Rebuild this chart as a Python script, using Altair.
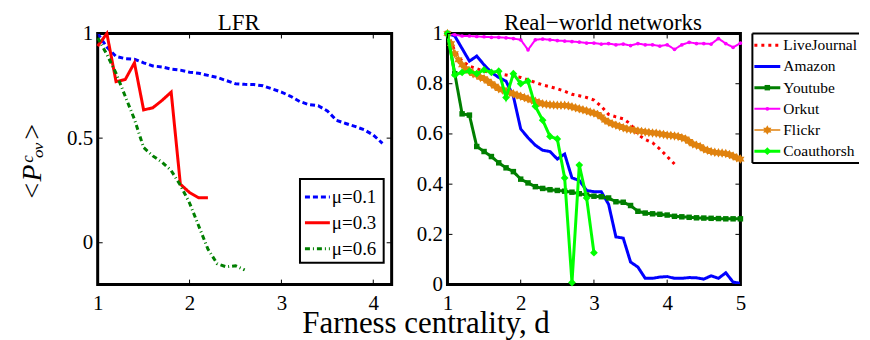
import altair as alt
import pandas as pd

# ---------------- data ----------------
LFR_NAMES = ["μ=0.1", "μ=0.3", "μ=0.6"]
LFR_D_01 = [1.0, 1.1, 1.2, 1.3, 1.4, 1.5, 1.6, 1.7, 1.8, 1.9, 2.0, 2.1, 2.2, 2.3, 2.4, 2.5,
            2.6, 2.7, 2.8, 2.9, 3.0, 3.1, 3.2, 3.3, 3.4, 3.5, 3.6, 3.7, 3.8, 3.9, 4.0, 4.1]
LFR_P_01 = [1.0, 0.935, 0.89, 0.88, 0.877, 0.86, 0.845, 0.84, 0.83, 0.825, 0.815, 0.81, 0.80,
            0.79, 0.775, 0.76, 0.757, 0.756, 0.75, 0.735, 0.72, 0.70, 0.675, 0.66, 0.655, 0.63,
            0.585, 0.57, 0.556, 0.54, 0.515, 0.475]
LFR_D_03 = [1.0, 1.1, 1.2, 1.3, 1.4, 1.5, 1.6, 1.7, 1.8, 1.9, 2.0, 2.1, 2.2]
LFR_P_03 = [0.94, 1.0, 0.77, 0.78, 0.86, 0.635, 0.645, 0.68, 0.72, 0.28, 0.24, 0.215, 0.215]
LFR_D_06 = [1.0, 1.1, 1.2, 1.3, 1.4, 1.5, 1.6, 1.7, 1.8, 1.9, 2.0, 2.1, 2.2, 2.3, 2.4, 2.5, 2.6]
LFR_P_06 = [0.98, 0.9, 0.81, 0.7, 0.59, 0.455, 0.415, 0.385, 0.345, 0.275, 0.19, 0.08, -0.03,
            -0.1, -0.115, -0.11, -0.13]

NET_NAMES = ["LiveJournal", "Amazon", "Youtube", "Orkut", "Flickr", "Coauthorship"]
NET_D = [1.0, 1.1, 1.2, 1.3, 1.4, 1.5, 1.6, 1.7, 1.8, 1.9, 2.0, 2.1, 2.2, 2.3, 2.4, 2.5, 2.6,
         2.7, 2.8, 2.9, 3.0, 3.1, 3.2, 3.3, 3.4, 3.5, 3.6, 3.7, 3.8, 3.9, 4.0, 4.1, 4.2, 4.3,
         4.4, 4.5, 4.6, 4.7, 4.8, 4.9, 5.0]
LIVEJOURNAL = [1.0, 0.93, 0.89, 0.87, 0.86, 0.85, 0.845, 0.84, 0.835, 0.83, 0.825, 0.815, 0.805,
               0.795, 0.788, 0.78, 0.77, 0.758, 0.752, 0.745, 0.735, 0.71, 0.678, 0.668, 0.66,
               0.64, 0.598, 0.578, 0.565, 0.54, 0.51, 0.48]
AMAZON = [1.0, 0.99, 0.94, 0.89, 0.91, 0.875, 0.845, 0.825, 0.81, 0.75, 0.62, 0.585, 0.555,
          0.535, 0.53, 0.5, 0.52, 0.425, 0.415, 0.375, 0.37, 0.37, 0.32, 0.19, 0.185, 0.09, 0.07,
          0.025, 0.025, 0.03, 0.032, 0.025, 0.025, 0.028, 0.027, 0.022, 0.035, 0.025, 0.047,
          0.01, 0.005]
YOUTUBE = [1.0, 0.84, 0.68, 0.675, 0.55, 0.53, 0.51, 0.485, 0.465, 0.45, 0.42, 0.405, 0.39,
           0.383, 0.378, 0.375, 0.372, 0.368, 0.362, 0.357, 0.352, 0.35, 0.345, 0.33, 0.328,
           0.315, 0.292, 0.285, 0.282, 0.28, 0.277, 0.272, 0.27, 0.268, 0.266, 0.265, 0.264,
           0.263, 0.262, 0.262, 0.262]
ORKUT = [1.0, 0.995, 0.99, 0.99, 0.988, 0.987, 0.985, 0.985, 0.983, 0.98, 0.975, 0.935, 0.975,
         0.978, 0.975, 0.972, 0.97, 0.968, 0.966, 0.962, 0.962, 0.958, 0.96, 0.955, 0.958, 0.952,
         0.96, 0.955, 0.955, 0.95, 0.955, 0.937, 0.955, 0.965, 0.96, 0.96, 0.958, 0.98, 0.96,
         0.945, 0.962]
FLICKR_D = [1.0, 1.05, 1.1, 1.15, 1.2, 1.25, 1.3, 1.35, 1.4, 1.45, 1.5, 1.55, 1.6, 1.65, 1.7,
            1.75, 1.8, 1.85, 1.9, 1.95, 2.0, 2.05, 2.1, 2.15, 2.2, 2.25, 2.3, 2.35, 2.4, 2.45,
            2.5, 2.55, 2.6, 2.65, 2.7, 2.75, 2.8, 2.85, 2.9, 2.95, 3.0, 3.05, 3.1, 3.15, 3.2,
            3.25, 3.3, 3.35, 3.4, 3.45, 3.5, 3.55, 3.6, 3.65, 3.7, 3.75, 3.8, 3.85, 3.9, 3.95,
            4.0, 4.05, 4.1, 4.15, 4.2, 4.25, 4.3, 4.35, 4.4, 4.45, 4.5, 4.55, 4.6, 4.65, 4.7,
            4.75, 4.8, 4.85, 4.9, 4.95, 5.0]
FLICKR = [1.0, 0.96, 0.92, 0.895, 0.875, 0.86, 0.85, 0.84, 0.835, 0.825,
          0.82, 0.81, 0.80, 0.79, 0.78, 0.775, 0.77, 0.765, 0.76, 0.755,
          0.75, 0.745, 0.74, 0.735, 0.73, 0.725, 0.72, 0.718, 0.716, 0.715,
          0.714, 0.714, 0.714, 0.712, 0.708, 0.704, 0.70, 0.696, 0.692, 0.687,
          0.683, 0.678, 0.668, 0.655, 0.647, 0.64, 0.635, 0.63, 0.625, 0.62,
          0.618, 0.615, 0.612, 0.61, 0.608, 0.606, 0.604, 0.603, 0.60, 0.598,
          0.595, 0.594, 0.592, 0.59, 0.585, 0.58, 0.57, 0.56, 0.555, 0.55,
          0.54, 0.535, 0.53, 0.527, 0.525, 0.524, 0.522, 0.518, 0.512, 0.505,
          0.50]
COAUTHORSHIP = [1.0, 0.835, 0.845, 0.85, 0.84, 0.855, 0.845, 0.85, 0.745, 0.84, 0.80, 0.81,
                0.71, 0.655, 0.59, 0.58, 0.425, 0.008, 0.476, 0.345, 0.127]

LFR_XTICKS = [1, 2, 3, 4]
LFR_YTICKS = [0, 0.5, 1]
NET_XTICKS = [1, 2, 3, 4, 5]
NET_YTICKS = [0, 0.2, 0.4, 0.6, 0.8, 1]

# ---------------- tables ----------------
def rows(name, xs, ys):
    return [{"series": name, "d": x, "p": y} for x, y in zip(xs, ys)]

lfr_df = pd.DataFrame(rows(LFR_NAMES[0], LFR_D_01, LFR_P_01)
                      + rows(LFR_NAMES[1], LFR_D_03, LFR_P_03)
                      + rows(LFR_NAMES[2], LFR_D_06, LFR_P_06))
net_df = pd.DataFrame(rows("LiveJournal", NET_D, LIVEJOURNAL)
                      + rows("Amazon", NET_D, AMAZON)
                      + rows("Youtube", NET_D, YOUTUBE)
                      + rows("Orkut", NET_D, ORKUT)
                      + rows("Flickr", FLICKR_D, FLICKR)
                      + rows("Coauthorship", NET_D, COAUTHORSHIP))

# ---------------- styles ----------------
FONT = "Liberation Serif, Times New Roman, serif"
HEXAGRAM = ("M0,-1L0.2887,-0.5L0.866,-0.5L0.5774,0L0.866,0.5L0.2887,0.5L0,1L-0.2887,0.5"
            "L-0.866,0.5L-0.5774,0L-0.866,-0.5L-0.2887,-0.5Z")
ALL_NAMES = LFR_NAMES + NET_NAMES
ALL_COLORS = ["#0000FF", "#FF0000", "#007F00",
              "#FF0000", "#0000FF", "#007F00", "#FF00FF", "#E0820E", "#00FF00"]
ALL_DASH = [[5, 3], [1, 0], [5, 3, 1, 3], [3, 4], [1, 0], [1, 0], [1, 0], [1, 0], [1, 0]]
ALL_WIDTH = [3, 3, 3, 3, 3, 3, 2, 1.5, 3]
MARKED = ["Youtube", "Orkut", "Flickr", "Coauthorship"]
MARK_SHAPES = ["square", "circle", HEXAGRAM, "diamond"]
MARK_SIZES = [30, 14, 90, 60]

color_scale = alt.Scale(domain=ALL_NAMES, range=ALL_COLORS)
dash_scale = alt.Scale(type="ordinal", domain=ALL_NAMES, range=ALL_DASH)
width_scale = alt.Scale(type="ordinal", domain=ALL_NAMES, range=ALL_WIDTH)
shape_scale = alt.Scale(domain=MARKED, range=MARK_SHAPES)
size_scale = alt.Scale(type="ordinal", domain=MARKED, range=MARK_SIZES)

enc_color = alt.Color("series:N", scale=color_scale, legend=None)
enc_dash = alt.StrokeDash("series:N", scale=dash_scale, legend=None)
enc_width = alt.StrokeWidth("series:N", scale=width_scale, legend=None)
enc_shape = alt.Shape("series:N", scale=shape_scale, legend=None)
enc_size = alt.Size("series:N", scale=size_scale, legend=None)

W_L, W_R, H = 295, 294, 252
W_LEG, H_LEG = 107, 130
TICK = 5

def ticks(xvals, yvals, xenc, yenc, w, h):
    tx = alt.Chart(pd.DataFrame({"d": xvals}))
    ty = alt.Chart(pd.DataFrame({"p": yvals}))
    base = dict(color="black", strokeWidth=1)
    return [
        tx.mark_rule(**base).encode(x=xenc, y=alt.value(h), y2=alt.value(h - TICK)),
        tx.mark_rule(**base).encode(x=xenc, y=alt.value(0), y2=alt.value(TICK)),
        ty.mark_rule(**base).encode(y=yenc, x=alt.value(0), x2=alt.value(TICK)),
        ty.mark_rule(**base).encode(y=yenc, x=alt.value(w), x2=alt.value(w - TICK)),
    ]

def panel_title(text, dx):
    return alt.TitleParams(text, font=FONT, fontSize=23, fontWeight="normal",
                           color="black", offset=-12, frame="group", dx=dx)

# ---------------- left panel (LFR) ----------------
lx_scale = alt.Scale(domain=[1, 4.2], nice=False, zero=False)
ly_scale = alt.Scale(domain=[-0.2, 1], nice=False, zero=False)
lx_axis = alt.Axis(values=LFR_XTICKS, format="~g", title="Farness centrality, d",
                   titleFontSize=31, titleFontWeight="normal", titleX=329, titleY=48,
                   titleBaseline="alphabetic", titleAlign="center")
ly_axis = alt.Axis(values=LFR_YTICKS, format="~g", title="<Pᶜₒᵥ>",
                   titleFontSize=28, titleFontWeight="normal", titleFontStyle="italic",
                   titleX=-57, titleY=128, titleBaseline="alphabetic", titleAlign="center",
                   titleAngle=270)
lx = alt.X("d:Q", scale=lx_scale, axis=lx_axis)
ly = alt.Y("p:Q", scale=ly_scale, axis=ly_axis)

lfr_lines = [
    alt.Chart(lfr_df).transform_filter(alt.datum.series == n)
    .mark_line(strokeCap="butt")
    .encode(x=lx, y=ly, color=enc_color, strokeDash=enc_dash, strokeWidth=enc_width)
    for n in LFR_NAMES
]
left_main = alt.layer(*lfr_lines, *ticks(LFR_XTICKS, LFR_YTICKS, lx, ly, W_L, H))

lfr_leg_df = pd.DataFrame({"series": LFR_NAMES})
lfr_leg_y = alt.Y("series:N",
                  scale=alt.Scale(type="point", domain=LFR_NAMES, range=[164, 216], padding=0),
                  axis=None)
lfr_box = alt.Chart(pd.DataFrame({"box": ["legend"]})).mark_rect(
    fill="white", stroke="black", strokeWidth=2).encode(
    x=alt.value(203), x2=alt.value(287), y=alt.value(146), y2=alt.value(230))
lfr_leg_line = alt.Chart(lfr_leg_df).mark_rule(strokeCap="butt").encode(
    y=lfr_leg_y, x=alt.value(208), x2=alt.value(233),
    color=enc_color, strokeDash=enc_dash, strokeWidth=enc_width)
lfr_leg_text = alt.Chart(lfr_leg_df).mark_text(
    align="left", baseline="middle", font=FONT, fontSize=19, color="black").encode(
    y=lfr_leg_y, x=alt.value(235), text="series:N")
left_leg = alt.layer(lfr_box, lfr_leg_line, lfr_leg_text)

left = alt.layer(left_main, left_leg).resolve_scale(y="independent").properties(
    width=W_L, height=H, title=panel_title("LFR", -6))

# ---------------- right panel (real-world) ----------------
rx_scale = alt.Scale(domain=[1, 5], nice=False, zero=False)
ry_scale = alt.Scale(domain=[0, 1], nice=False, zero=False)
rx = alt.X("d:Q", scale=rx_scale, axis=alt.Axis(values=NET_XTICKS, format="~g", title=None))
ry = alt.Y("p:Q", scale=ry_scale, axis=alt.Axis(values=NET_YTICKS, format="~g", title=None))

net_layers = []
for n in NET_NAMES:
    base = alt.Chart(net_df).transform_filter(alt.datum.series == n)
    net_layers.append(base.mark_line(strokeCap="butt").encode(
        x=rx, y=ry, color=enc_color, strokeDash=enc_dash, strokeWidth=enc_width))
    if n in MARKED:
        net_layers.append(base.mark_point(filled=True, opacity=1, strokeWidth=0).encode(
            x=rx, y=ry, color=enc_color, shape=enc_shape, size=enc_size))

right = alt.layer(*net_layers, *ticks(NET_XTICKS, NET_YTICKS, rx, ry, W_R, H)).properties(
    width=W_R, height=H, title=panel_title("Real−world networks", 9))

# ---------------- legend panel ----------------
net_leg_df = pd.DataFrame({"series": NET_NAMES})
net_leg_y = alt.Y("series:N", scale=alt.Scale(type="point", domain=NET_NAMES, padding=0.56),
                  axis=None)
one = alt.Chart(pd.DataFrame({"box": ["legend"]}))
frame_style = dict(color="black", strokeWidth=2)
leg_frame = [
    one.mark_rule(**frame_style).encode(x=alt.value(0), x2=alt.value(W_LEG), y=alt.value(0)),
    one.mark_rule(**frame_style).encode(x=alt.value(0), x2=alt.value(W_LEG), y=alt.value(H_LEG)),
    one.mark_rule(**frame_style).encode(x=alt.value(0), y=alt.value(0), y2=alt.value(H_LEG)),
]
leg_line = alt.Chart(net_leg_df).mark_rule(strokeCap="butt").encode(
    y=net_leg_y, x=alt.value(2), x2=alt.value(28),
    color=enc_color, strokeDash=enc_dash, strokeWidth=enc_width)
leg_pts = alt.Chart(net_leg_df).transform_filter(
    alt.FieldOneOfPredicate(field="series", oneOf=MARKED)).mark_point(
    filled=True, opacity=1, strokeWidth=0).encode(
    y=net_leg_y, x=alt.value(15), color=enc_color, shape=enc_shape, size=enc_size)
leg_text = alt.Chart(net_leg_df).mark_text(
    align="left", baseline="middle", font=FONT, fontSize=15.5, color="black",
    limit=W_LEG - 32, ellipsis="\u200b").encode(
    y=net_leg_y, x=alt.value(31), text="series:N")
legend = alt.layer(*leg_frame, leg_line, leg_pts, leg_text).properties(
    width=W_LEG, height=H_LEG,
    view=alt.ViewBackground(stroke="transparent", fill="white"))

# ---------------- assemble ----------------
chart = alt.hconcat(
    left,
    alt.hconcat(right, legend, spacing=12, bounds="flush"),
    spacing=56, bounds="flush",
).properties(
    padding={"left": 9, "top": 1, "right": 0, "bottom": 0}
).configure(
    background="white", font=FONT
).configure_view(
    stroke="black", strokeWidth=3
).configure_axis(
    labelFont=FONT, labelFontSize=21, labelColor="black", titleFont=FONT, titleColor="black",
    domain=False, ticks=False, tickSize=0, grid=False, labelFlush=False
).configure_axisX(labelPadding=8).configure_axisY(labelPadding=5)

chart.save("out.html", embed_options={"renderer": "svg", "actions": False})
